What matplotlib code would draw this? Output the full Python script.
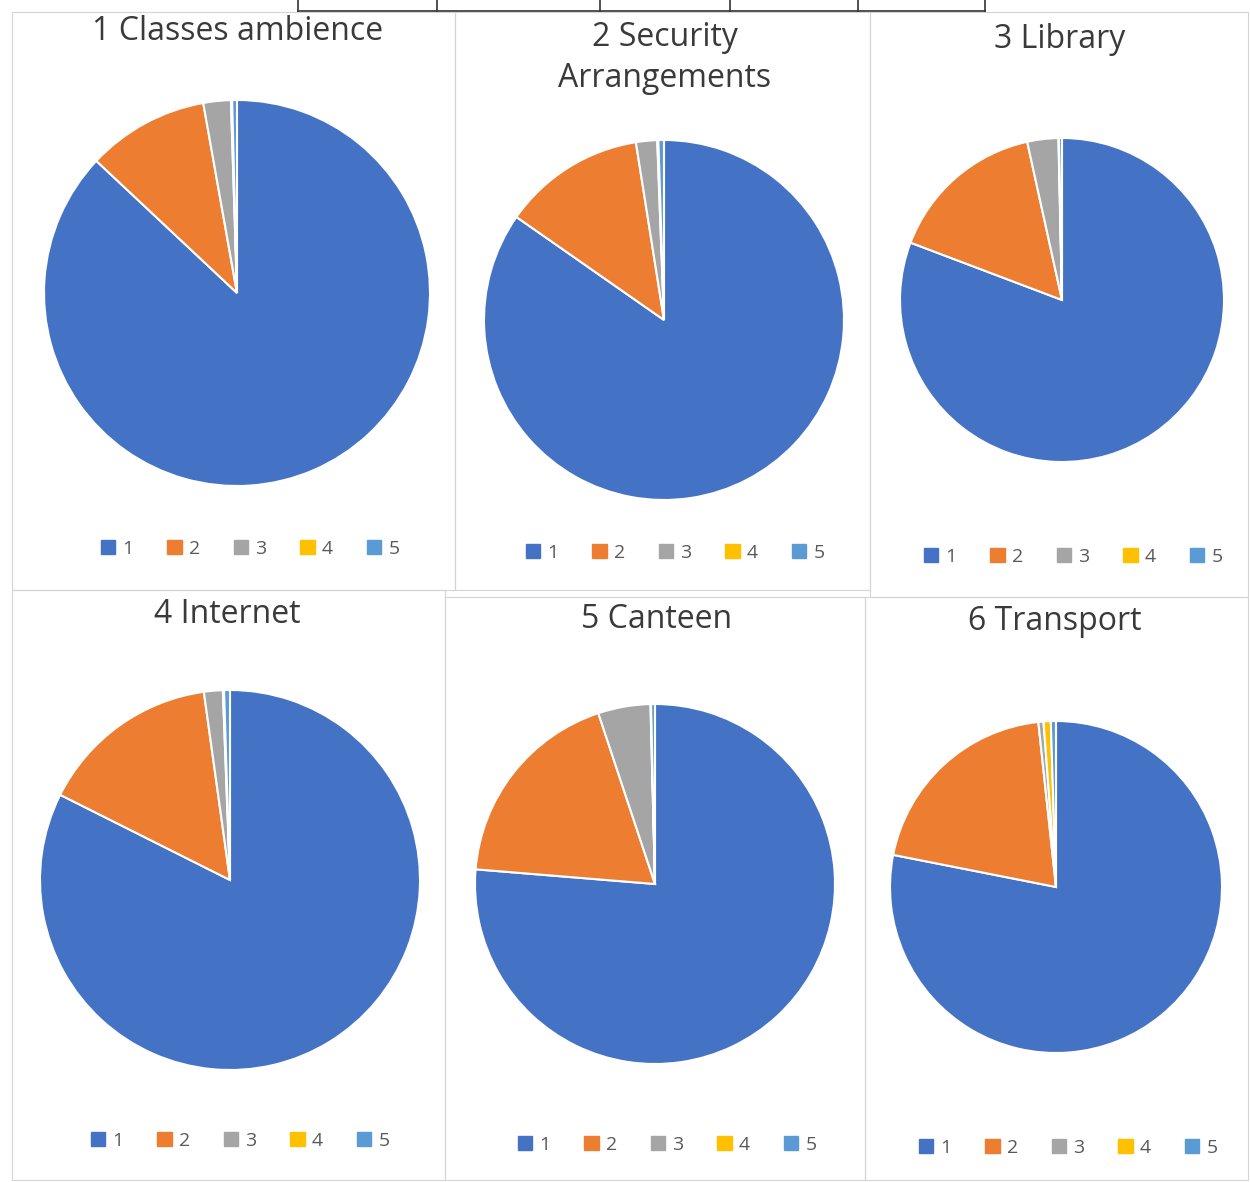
import matplotlib.pyplot as plt
from matplotlib.patches import Rectangle, Patch
from matplotlib.lines import Line2D

# Rating categories and colours (Excel-like palette)
categories = ["1", "2", "3", "4", "5"]
colors = ["#4472C4", "#ED7D31", "#A5A5A5", "#FFC000", "#5B9BD5"]

titles = ["1 Classes ambience", "2 Security\nArrangements", "3 Library",
          "4 Internet", "5 Canteen", "6 Transport"]

# share of responses (%) per rating
classes_ambience = [87.0, 10.2, 2.3, 0.1, 0.4]
security = [84.7, 12.8, 1.9, 0.1, 0.5]
library = [80.8, 15.8, 3.1, 0.05, 0.3]
internet = [82.4, 15.4, 1.6, 0.1, 0.5]
canteen = [76.3, 18.6, 4.7, 0.05, 0.35]
transport = [78.1, 20.2, 0.5, 0.7, 0.5]
all_values = [classes_ambience, security, library, internet, canteen, transport]

W, H = 1250, 1182
fig = plt.figure(figsize=(W / 100, H / 100), dpi=100)
plt.rcParams['font.family'] = ['Open Sans', 'DejaVu Sans']


def fx(x):
    return x / W


def fy(y):
    return 1 - y / H


# panel frames (pixel boxes: x0, y0, x1, y1)
panels = [(12, 12, 455, 590), (455, 12, 870, 590), (870, 12, 1248, 597),
          (12, 590, 445, 1180), (445, 597, 865, 1180), (865, 597, 1248, 1180)]
for x0, y0, x1, y1 in panels:
    fig.patches.append(Rectangle((fx(x0), fy(y1)), fx(x1 - x0), (y1 - y0) / H,
                                 transform=fig.transFigure, fill=False,
                                 edgecolor="#d4d4d4", linewidth=0.8))

# fragment of the table above the charts
tx = [298, 437, 600, 730, 858, 985]
fig.lines.append(Line2D([fx(298), fx(985)], [fy(11), fy(11)],
                        transform=fig.transFigure, color="#333333", lw=1.2))
for x in tx:
    fig.lines.append(Line2D([fx(x), fx(x)], [fy(0), fy(11)],
                            transform=fig.transFigure, color="#333333", lw=1.2))

# pie centres / radii in pixels
centres = [(237, 293, 193), (664, 320, 180), (1062, 300, 162),
           (230, 880, 190), (655, 884, 180), (1056, 887, 166)]
title_pos = [(238, 32), (665, 58), (1060, 40), (227, 615), (657, 620), (1055, 622)]
legend_pos = [(250, 549), (675, 553), (1073, 557), (240, 1141), (667, 1145), (1068, 1148)]

handles = [Patch(facecolor=c, edgecolor=c) for c in colors]

for i, vals in enumerate(all_values):
    cx, cy, r = centres[i]
    ax = fig.add_axes([fx(cx - r), fy(cy + r), 2 * r / W, 2 * r / H])
    ax.pie(vals, colors=colors, startangle=90, counterclock=False,
           wedgeprops=dict(edgecolor="white", linewidth=1.5))
    ax.set_xlim(-1, 1)
    ax.set_ylim(-1, 1)
    ax.axis("off")

    tx_, ty_ = title_pos[i]
    fig.text(fx(tx_), fy(ty_), titles[i], ha="center", va="center",
             fontsize=23, color="#3a3a3a", linespacing=1.3)

    lx, ly = legend_pos[i]
    fig.legend(handles, categories, loc="center", ncol=5,
               bbox_to_anchor=(fx(lx), fy(ly)), frameon=False,
               fontsize=14, handlelength=0.75, handleheight=0.75,
               handletextpad=0.35, columnspacing=1.75, labelcolor="#595959")

fig.savefig("out.png", dpi=100, facecolor="white")
